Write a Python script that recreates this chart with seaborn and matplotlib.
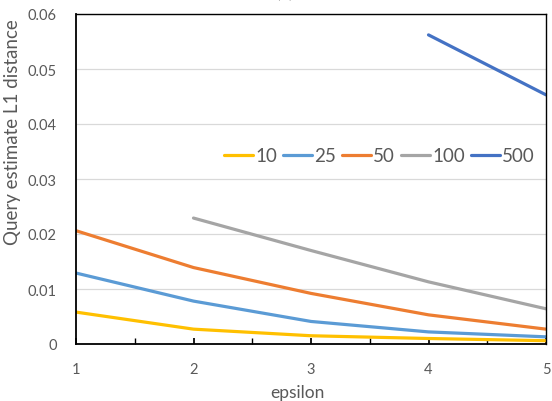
import numpy as np
import pandas as pd
import matplotlib
matplotlib.use("Agg")
import matplotlib.pyplot as plt
import seaborn as sns
from matplotlib.ticker import MultipleLocator

epsilon = [1, 2, 3, 4, 5]
series_names = ["10", "25", "50", "100", "500"]
v10 = [0.0058, 0.0027, 0.0015, 0.0010, 0.0006]
v25 = [0.0129, 0.0078, 0.0041, 0.0022, 0.0013]
v50 = [0.0206, 0.0139, 0.0092, 0.0053, 0.0027]
v100 = [np.nan, 0.0229, 0.0170, 0.0113, 0.0064]
v500 = [np.nan, np.nan, np.nan, 0.0562, 0.0453]
colors = ["#FFC000", "#5B9BD5", "#ED7D31", "#A5A5A5", "#4472C4"]

rows = []
for name, vals in zip(series_names, [v10, v25, v50, v100, v500]):
    for e, v in zip(epsilon, vals):
        rows.append({"epsilon": e, "value": v, "series": name})
df = pd.DataFrame(rows)

sns.set_theme(style="white")
plt.rcParams['font.family'] = ['Lato', 'DejaVu Sans']
txt = "#595959"

fig = plt.figure(figsize=(5.52, 4.02), dpi=100)
ax = fig.add_axes([76/552, 1-345/402, 470/552, 330/402])

sns.lineplot(data=df, x="epsilon", y="value", hue="series", hue_order=series_names,
             palette=colors, linewidth=2.3, ax=ax, legend=True)

ax.set_xlim(1, 5)
ax.set_ylim(0, 0.06)
ax.xaxis.set_major_locator(MultipleLocator(1))
ax.xaxis.set_minor_locator(MultipleLocator(0.5))
ax.set_yticks([0, 0.01, 0.02, 0.03, 0.04, 0.05, 0.06])
ax.set_yticklabels(["0", "0.01", "0.02", "0.03", "0.04", "0.05", "0.06"])
ax.grid(axis="y", color="#D9D9D9", linewidth=0.9)
ax.set_axisbelow(True)
for s in ax.spines.values():
    s.set_color("#000000")
    s.set_linewidth(1.0)
ax.spines['left'].set_linewidth(1.3)
ax.spines['bottom'].set_linewidth(1.3)

ax.tick_params(axis="x", which="both", direction="in", length=4, color="#000000",
               bottom=True, labelsize=10.5, labelcolor=txt, pad=13)
ax.tick_params(axis="y", length=0, labelsize=10.5, labelcolor=txt, pad=14)

ax.set_xlabel("epsilon", fontsize=12.5, color=txt)
ax.xaxis.set_label_coords((297-76)/470, -(40)/330)
ax.set_ylabel("Query estimate L1 distance", fontsize=13.5, color=txt)
ax.yaxis.set_label_coords(-(55)/470, (345-132)/330)

handles, labels = ax.get_legend_handles_labels()
leg = ax.legend(handles, labels, ncol=5, frameon=False, loc="center left",
                bbox_to_anchor=(0.315, 0.57), fontsize=13.5, handlelength=1.55,
                handletextpad=0.1, columnspacing=0.33, borderaxespad=0,
                borderpad=0)
for t in leg.get_texts():
    t.set_color(txt)
for h in leg.get_lines():
    h.set_linewidth(2.3)

fig.text(284/552, 1 + 7/402, "(a)", ha="center", va="center", fontsize=13, color="#404040")

fig.savefig("out.png", dpi=100)
